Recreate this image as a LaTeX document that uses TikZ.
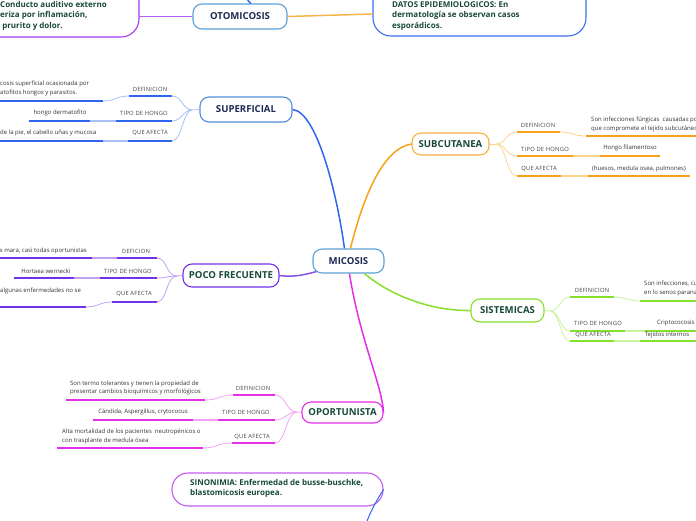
\documentclass[tikz,border=0pt]{standalone}
\usepackage{fontspec}
\setmainfont{Open Sans}
\newfontfamily\lblfont[LetterSpace=4]{Open Sans}
\definecolor{cblue}{HTML}{2F66F0}
\definecolor{cbluel}{HTML}{A8C0F6}
\definecolor{corange}{HTML}{F7A11B}
\definecolor{corangel}{HTML}{FBD28E}
\definecolor{cpurple}{HTML}{7032E8}
\definecolor{cpurplel}{HTML}{BFA2F4}
\definecolor{cgreen}{HTML}{85E02A}
\definecolor{cgreenl}{HTML}{C8F29E}
\definecolor{cmag}{HTML}{E52EE8}
\definecolor{cmagl}{HTML}{F3A4F4}
\definecolor{boxblue}{HTML}{5A9FD8}
\definecolor{navy}{HTML}{1B2A52}
\definecolor{dgreen}{HTML}{17493A}
\definecolor{lblgray}{HTML}{444444}
\definecolor{dettext}{HTML}{333333}
\definecolor{sinpurple}{HTML}{C35CF2}
\definecolor{otopurple}{HTML}{A838F0}
\definecolor{datblue}{HTML}{3C6CF2}
\begin{document}
\begin{tikzpicture}[x=1pt,y=-1pt,
  mainbox/.style={draw, rounded corners=9pt, line width=1.1pt, fill=white, inner sep=0pt,
    font=\fontsize{9.6}{11}\selectfont\bfseries},
  bigbox/.style={draw, line width=1.1pt, fill=white},
  bigtext/.style={font=\fontsize{8.0}{10.5}\selectfont\bfseries, text=dgreen, align=left, inner sep=0pt},
  lbl/.style={font=\lblfont\fontsize{5.8}{6.5}\selectfont, text=lblgray, inner sep=0pt},
  det/.style={font=\fontsize{6.0}{8.8}\selectfont, text=dettext, inner sep=0pt, align=left},
  ul/.style={line width=1.5pt},
  lk/.style={line width=0.8pt},
  mainline/.style={line width=1.5pt}]
\useasboundingbox (0,0) rectangle (696,520);

% ---------------- top boxes ----------------
\coordinate (otoTop) at (246,-3);
\coordinate (otoBoxA) at (-60,-30);
\coordinate (otoBoxB) at (139,37);
\draw[bigbox, draw=otopurple, rounded corners=18pt] (otoBoxA) rectangle (otoBoxB);
\node[bigtext, anchor=north west] (otoTxt) at (0,1.2) {Conducto auditivo externo\\eriza por inflamación,\\\ prurito y dolor.};
\coordinate (datA) at (373,-30);
\coordinate (datB) at (586,36);
\draw[bigbox, draw=datblue, rounded corners=18pt] (datA) rectangle (datB);
\node[bigtext, anchor=north west] (datTxt) at (392,1.2) {DATOS EPIDEMIOLOGICOS: En\\dermatología se observan casos\\esporádicos.};
\node[mainbox, draw=boxblue, text=navy, minimum width=94pt, minimum height=25pt] (oto) at (240,16.5) {OTOMICOSIS};
\draw[mainline, cblue] (oto.50) .. controls (249,2) .. (otoTop);
\draw[mainline, otopurple!80] (oto.west) -- (otoBoxB |- oto.west);
\draw[mainline, corange!80] (oto.east) .. controls (330,15) .. (373,14);

% ---------------- central ----------------
\node[mainbox, draw=boxblue, text=navy, minimum width=71pt, minimum height=24pt] (mic) at (348.5,261) {MICOSIS};
\node[mainbox, draw=boxblue!90!blue, text=navy, minimum width=92pt, minimum height=25pt] (sup) at (246,109.5) {SUPERFICIAL};
\node[mainbox, draw=corange!85, text=dgreen, minimum width=77pt, minimum height=22pt] (sub) at (450.5,144) {SUBCUTANEA};
\node[mainbox, draw=cpurple, text=dgreen, minimum width=96pt, minimum height=23pt] (poc) at (231,275.5) {POCO FRECUENTE};
\node[mainbox, draw=cgreen, text=dgreen, minimum width=73pt, minimum height=23pt] (sis) at (507.5,310.5) {SISTEMICAS};
\node[mainbox, draw=cmag, text=dgreen, minimum width=81pt, minimum height=21pt] (opo) at (342.5,412.5) {OPORTUNISTA};

\draw[mainline, cblue] (mic.north west) ++(32,0) coordinate (micN1) .. controls (338,200) and (318,112) .. (sup.east);
\draw[mainline, corange] (mic.north west) ++(38,0) coordinate (micN2) .. controls (365,190) and (385,148) .. (sub.west);
\draw[mainline, cpurple!85] (mic.south west) ++(4,-2) coordinate (micW) .. controls (300,276) and (292,277) .. (poc.east);
\draw[mainline, cgreen] (mic.south west) ++(52,0) coordinate (micSE) .. controls (390,295) and (430,311) .. (sis.west);
\draw[mainline, cmag] (mic.south west) ++(37,0) coordinate (micS) .. controls (360,340) and (382,385) .. (opo.east);

% ---------------- SUPERFICIAL branch ----------------
\coordinate (supH) at (192,110);
\draw[lk, cbluel] (sup.west) -- (supH);
\node[lbl] (supL1) at (150,89) {DEFINICION};
\coordinate (supU1a) at (129,96); \coordinate (supU1b) at (172,96);
\coordinate (supD1a) at (-5,101); \coordinate (supD1b) at (103,101);
\draw[lk, cbluel] (supU1a) .. controls (116,96) and (116,101) .. (supD1b);
\draw[ul, cblue] (supU1a) -- (supU1b);
\draw[ul, cblue] (supD1a) -- (supD1b);
\node[det, anchor=west] (supT1) at (0,88.5) {cosis superficial ocasionada por\\atofitos hongos y parasitos.};
\draw[lk, cbluel] (supH) .. controls (183,110) and (182,96) .. (supU1b);
\node[lbl] (supL2) at (144,113) {TIPO DE HONGO};
\coordinate (supU2a) at (116,121); \coordinate (supU2b) at (172,121);
\coordinate (supD2a) at (29,121); \coordinate (supD2b) at (90,121);
\draw[ul, cbluel] (supD2b) -- (supU2a);
\draw[ul, cblue] (supU2a) -- (supU2b);
\draw[ul, cblue] (supD2a) -- (supD2b);
\node[det] (supT2) at (60,113) {hongo dermatofito};
\draw[lk, cbluel] (supH) .. controls (183,110) and (182,121) .. (supU2b);
\node[lbl] (supL3) at (150,133) {QUE AFECTA};
\coordinate (supU3a) at (128,141); \coordinate (supU3b) at (172,141);
\coordinate (supD3a) at (-5,141); \coordinate (supD3b) at (103,141);
\draw[ul, cbluel] (supD3b) -- (supU3a);
\draw[ul, cblue] (supU3a) -- (supU3b);
\draw[ul, cblue] (supD3a) -- (supD3b);
\node[det, anchor=west] (supT3) at (0,133) {de la pie, el cabello uñas y mucosa};
\draw[lk, cbluel] (supH) .. controls (183,110) and (182,141) .. (supU3b);

% ---------------- SUBCUTANEA branch ----------------
\coordinate (subH) at (496,144);
\draw[lk, corangel] (sub.east) -- (subH);
\node[lbl] (subL1) at (538,125) {DEFINICION};
\coordinate (subU1a) at (517,132); \coordinate (subU1b) at (560,132);
\coordinate (subD1a) at (586,136); \coordinate (subD1b) at (705,136);
\draw[lk, corangel] (subU1b) .. controls (573,132) and (573,136) .. (subD1a);
\draw[ul, corange] (subU1a) -- (subU1b);
\draw[ul, corange] (subD1a) -- (subD1b);
\node[det, anchor=west] (subT1) at (591,124.5) {Son infecciones fúngicas \ causadas por\\que compromete el tejido subcutáneo};
\draw[lk, corangel] (subH) .. controls (506,144) and (506,132) .. (subU1a);
\node[lbl] (subL2) at (545,149) {TIPO DE HONGO};
\coordinate (subU2a) at (517,156); \coordinate (subU2b) at (573,156);
\coordinate (subD2a) at (600,156); \coordinate (subD2b) at (660,156);
\draw[ul, corangel] (subU2b) -- (subD2a);
\draw[ul, corange] (subU2a) -- (subU2b);
\draw[ul, corange] (subD2a) -- (subD2b);
\node[det] (subT2) at (630,148) {Hongo filamentoso};
\draw[lk, corangel] (subH) .. controls (506,144) and (506,156) .. (subU2a);
\node[lbl] (subL3) at (539,169) {QUE AFECTA};
\coordinate (subU3a) at (517,176); \coordinate (subU3b) at (561,176);
\coordinate (subD3a) at (588,176); \coordinate (subD3b) at (690,176);
\draw[ul, corangel] (subU3b) -- (subD3a);
\draw[ul, corange] (subU3a) -- (subU3b);
\draw[ul, corange] (subD3a) -- (subD3b);
\node[det] (subT3) at (639,169) {(huesos, medula osea, pulmones)};
\draw[lk, corangel] (subH) .. controls (506,144) and (506,176) .. (subU3a);

% ---------------- POCO FRECUENTE branch ----------------
\coordinate (pocH) at (177,276);
\draw[lk, cpurplel] (poc.west) -- (pocH);
\node[lbl] (pocL1) at (136,251) {DEFICION};
\coordinate (pocU1a) at (117,258); \coordinate (pocU1b) at (157,258);
\coordinate (pocD1a) at (-5,258); \coordinate (pocD1b) at (92,258);
\draw[ul, cpurplel] (pocD1b) -- (pocU1a);
\draw[ul, cpurple] (pocU1a) -- (pocU1b);
\draw[ul, cpurple] (pocD1a) -- (pocD1b);
\node[det, anchor=east] (pocT1) at (87,251) {s mara, casi todas oportunistas};
\draw[lk, cpurplel] (pocH) .. controls (166,276) and (167,258) .. (pocU1b);
\node[lbl] (pocL2) at (128,271) {TIPO DE HONGO};
\coordinate (pocU2a) at (100,278); \coordinate (pocU2b) at (157,278);
\coordinate (pocD2a) at (14,278); \coordinate (pocD2b) at (74,278);
\draw[ul, cpurplel] (pocD2b) -- (pocU2a);
\draw[ul, cpurple] (pocU2a) -- (pocU2b);
\draw[ul, cpurple] (pocD2a) -- (pocD2b);
\node[det] (pocT2) at (46,271) {Hortaea wernecki};
\draw[lk, cpurplel] (pocH) .. controls (166,276) and (167,278) .. (pocU2b);
\node[lbl] (pocL3) at (134,294) {QUE AFECTA};
\coordinate (pocU3a) at (112,302); \coordinate (pocU3b) at (157,302);
\coordinate (pocD3a) at (-5,307); \coordinate (pocD3b) at (86,307);
\draw[lk, cpurplel] (pocD3b) .. controls (99,307) and (99,302) .. (pocU3a);
\draw[ul, cpurple] (pocU3a) -- (pocU3b);
\draw[ul, cpurple] (pocD3a) -- (pocD3b);
\node[det, anchor=west] (pocT3) at (0,291) {algunas enfermedades no se};
\draw[lk, cpurplel] (pocH) .. controls (166,276) and (167,302) .. (pocU3b);

% ---------------- SISTEMICAS branch ----------------
\coordinate (sisH) at (550,311);
\draw[lk, cgreenl] (sis.east) -- (sisH);
\node[lbl] (sisL1) at (592,290) {DEFINICION};
\coordinate (sisU1a) at (570,297); \coordinate (sisU1b) at (614,297);
\coordinate (sisD1a) at (640,301); \coordinate (sisD1b) at (705,301);
\draw[lk, cgreenl] (sisU1b) .. controls (627,297) and (627,301) .. (sisD1a);
\draw[ul, cgreen] (sisU1a) -- (sisU1b);
\draw[ul, cgreen] (sisD1a) -- (sisD1b);
\node[det, anchor=west] (sisT1) at (644,288.5) {Son infecciones, cuya\\en lo senos paranasales};
\draw[lk, cgreenl] (sisH) .. controls (560,311) and (560,297) .. (sisU1a);
\node[lbl] (sisL2) at (598,323) {TIPO DE HONGO};
\coordinate (sisU2a) at (570,331); \coordinate (sisU2b) at (625,331);
\coordinate (sisD2a) at (645,331); \coordinate (sisD2b) at (705,331);
\draw[ul, cgreenl] (sisU2b) -- (sisD2a);
\draw[ul, cgreen] (sisU2a) -- (sisU2b);
\draw[ul, cgreen] (sisD2a) -- (sisD2b);
\node[det, anchor=west] (sisT2) at (657,323) {Criptococosis};
\draw[lk, cgreenl] (sisH) .. controls (560,311) and (560,331) .. (sisU2a);
\node[lbl] (sisL3) at (593,335) {QUE AFECTA};
\coordinate (sisU3a) at (570,341); \coordinate (sisU3b) at (614,341);
\coordinate (sisD3a) at (640,341); \coordinate (sisD3b) at (705,341);
\draw[ul, cgreenl] (sisU3b) -- (sisD3a);
\draw[ul, cgreen] (sisU3a) -- (sisU3b);
\draw[ul, cgreen] (sisD3a) -- (sisD3b);
\node[det] (sisT3) at (667,335) {Tejidos internos};
\draw[lk, cgreenl] (sisH) .. controls (560,311) and (560,341) .. (sisU3a);

% ---------------- OPORTUNISTA branch ----------------
\coordinate (opoH) at (297,412);
\draw[lk, cmagl] (opo.west) -- (opoH);
\node[lbl] (opoL1) at (253,388) {DEFINICION};
\coordinate (opoU1a) at (233,395); \coordinate (opoU1b) at (275,395);
\coordinate (opoD1a) at (66,400); \coordinate (opoD1b) at (205,400);
\draw[lk, cmagl] (opoD1b) .. controls (219,400) and (219,395) .. (opoU1a);
\draw[ul, cmag] (opoU1a) -- (opoU1b);
\draw[ul, cmag] (opoD1a) -- (opoD1b);
\node[det, anchor=west] (opoT1) at (70,388) {Son termo tolerantes y tienen la propiedad de\\presentar cambios bioquímicos y morfológicos};
\draw[lk, cmagl] (opoH) .. controls (286,412) and (286,395) .. (opoU1b);
\node[lbl] (opoL2) at (246,412) {TIPO DE HONGO};
\coordinate (opoU2a) at (218,420); \coordinate (opoU2b) at (275,420);
\coordinate (opoD2a) at (93,420); \coordinate (opoD2b) at (193,420);
\draw[ul, cmagl] (opoD2b) -- (opoU2a);
\draw[ul, cmag] (opoU2a) -- (opoU2b);
\draw[ul, cmag] (opoD2a) -- (opoD2b);
\node[det] (opoT2) at (143,412) {Cándida, Aspergillus, crytococus};
\draw[lk, cmagl] (opoH) .. controls (286,412) and (286,420) .. (opoU2b);
\node[lbl] (opoL3) at (252,437) {QUE AFECTA};
\coordinate (opoU3a) at (232,443); \coordinate (opoU3b) at (275,443);
\coordinate (opoD3a) at (57,448); \coordinate (opoD3b) at (203,448);
\draw[lk, cmagl] (opoD3b) .. controls (217,448) and (217,443) .. (opoU3a);
\draw[ul, cmag] (opoU3a) -- (opoU3b);
\draw[ul, cmag] (opoD3a) -- (opoD3b);
\node[det, anchor=west] (opoT3) at (62,436.5) {Alta mortalidad de los pacientes \ neutropénicos o\\con trasplante de medula ósea};
\draw[lk, cmagl] (opoH) .. controls (286,412) and (286,443) .. (opoU3b);

% ---------------- SINONIMIA ----------------
\node[bigbox, draw=sinpurple, rounded corners=16pt, minimum width=211pt, minimum height=33pt, inner sep=0pt] (sin) at (277.5,489.5) {};
\node[bigtext, anchor=west] (sinTxt) at (190,488.5) {SINONIMIA: Enfermedad de busse-buschke,\\blastomicosis europea.};
\coordinate (sinBot) at (366,524);
\draw[lk, cblue, line width=1pt] (sin.east) .. controls (378,498) and (370,512) .. (sinBot);
\end{tikzpicture}
\end{document}
